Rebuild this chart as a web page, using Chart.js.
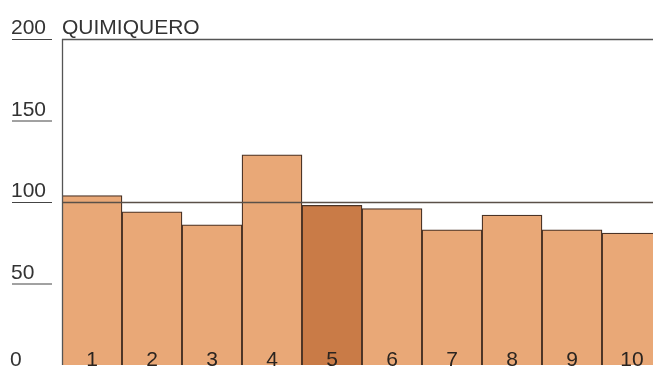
<!DOCTYPE html>
<html>
<head>
<meta charset="utf-8">
<script src="https://cdn.jsdelivr.net/npm/chart.js@4"></script>
<style>
  html, body { margin: 0; padding: 0; background: #fff; overflow: hidden; }
  #wrap { position: relative; width: 663px; height: 366px; }
</style>
</head>
<body>
<div id="wrap"><canvas id="myChart" width="663" height="366"></canvas></div>
<script>
const title = 'QUIMIQUERO'
const categories = ['1', '2', '3', '4', '5', '6', '7', '8', '9', '10']
const values = [104, 94, 86, 129, 98, 96, 83, 92, 83, 81]
const highlight = 4
const y_ticks = [0, 50, 100, 150, 200]
const ref_value = 100

const bar_color = '#E9A877'
const bar_dark = '#C97B47'
const ink = '#333'
const font = '"Liberation Sans", Arial, sans-serif'

// frame, tick labels, reference line and category numbers
const decorations = {
    id: 'decorations',
    afterDatasetsDraw(chart) {
        const ctx = chart.ctx
        const x = chart.scales.x
        const y = chart.scales.y
        const area = chart.chartArea

        ctx.save()
        // top and left frame
        ctx.strokeStyle = '#555'
        ctx.lineWidth = 1.3
        ctx.beginPath()
        ctx.moveTo(area.left, y.getPixelForValue(200) + 0.5)
        ctx.lineTo(chart.width, y.getPixelForValue(200) + 0.5)
        ctx.moveTo(area.left + 0.5, y.getPixelForValue(200))
        ctx.lineTo(area.left + 0.5, area.bottom)
        ctx.stroke()

        // reference line at 100
        ctx.strokeStyle = '#5a5048'
        ctx.lineWidth = 1.3
        ctx.beginPath()
        ctx.moveTo(area.left, y.getPixelForValue(ref_value) + 0.5)
        ctx.lineTo(chart.width, y.getPixelForValue(ref_value) + 0.5)
        ctx.stroke()

        // y tick labels with underlines
        ctx.font = '21px ' + font
        ctx.fillStyle = ink
        ctx.textAlign = 'left'
        ctx.textBaseline = 'alphabetic'
        y_ticks.forEach(v => {
            const py = y.getPixelForValue(v)
            if (v === 0) {
                ctx.fillText(String(v), 10, py + 1)
                return
            }
            ctx.fillText(String(v), 11, py - 5)
            ctx.strokeStyle = '#444'
            ctx.lineWidth = 1
            ctx.beginPath()
            ctx.moveTo(12, py + 0.5)
            ctx.lineTo(52, py + 0.5)
            ctx.stroke()
        })

        // title
        ctx.fillText(title, area.left, y.getPixelForValue(200) - 5)

        // category numbers inside the bars
        ctx.textAlign = 'center'
        ctx.fillStyle = '#2a2420'
        categories.forEach((c, i) => {
            ctx.fillText(c, x.getPixelForValue(i), area.bottom + 1)
        })
        ctx.restore()
    }
}

new Chart(document.getElementById('myChart'), {
    type: 'bar',
    data: {
        labels: categories,
        datasets: [{
            data: values,
            backgroundColor: values.map((v, i) => i === highlight ? bar_dark : bar_color),
            borderColor: '#4a3326',
            borderWidth: 1.3,
            borderSkipped: 'bottom',
            categoryPercentage: 1,
            barPercentage: 1
        }]
    },
    options: {
        responsive: false,
        animation: false,
        layout: { padding: { left: 62, top: 39, right: 1, bottom: 1 } },
        scales: {
            x: { display: false },
            y: { display: false, min: 0, max: 200 }
        },
        plugins: { legend: { display: false }, tooltip: { enabled: false } }
    },
    plugins: [decorations]
})
</script>
</body>
</html>
